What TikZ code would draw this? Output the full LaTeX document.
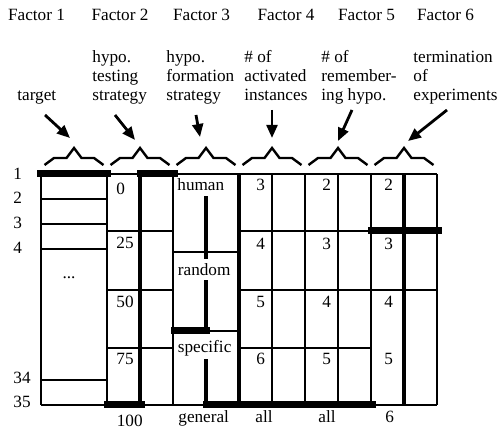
\documentclass[tikz,border=0pt]{standalone}
\usepackage{fontspec}
\setmainfont{Liberation Serif}
\usetikzlibrary{arrows.meta}
\begin{document}
\begin{tikzpicture}[x=0.5pt,y=-0.5pt,
  txt/.style={font=\fontsize{8.6}{10}\selectfont, inner sep=0pt, anchor=base west},
  num/.style={font=\fontsize{8.6}{10}\selectfont, inner sep=0pt, anchor=west},
  hdr/.style={font=\fontsize{8.6}{10}\selectfont, inner sep=0pt, anchor=base},
  brace/.style={line width=1.2pt, line join=miter},
  pointer/.style={line width=1.4pt, -{Triangle[length=6.5pt,width=5.4pt]}},
  hline/.style={line width=0.6pt},
  vthin/.style={line width=1pt},
  vmid/.style={line width=1.4pt},
  vthick/.style={line width=2pt},
  bar/.style={line width=3.5pt},
]
\path[use as bounding box] (0,0) rectangle (498,433);

% ---------- factor headers ----------
\node[hdr] (F1) at (36.5,21) {Factor 1};
\node[hdr] (F2) at (120,21) {Factor 2};
\node[hdr] (F3) at (201.5,21) {Factor 3};
\node[hdr] (F4) at (286,21) {Factor 4};
\node[hdr] (F5) at (366.5,21) {Factor 5};
\node[hdr] (F6) at (445.5,21) {Factor 6};

% ---------- descriptions ----------
\node[txt] (d1) at (17,101) {target};
\node[txt] (d2a) at (92,63) {hypo.};
\node[txt] (d2b) at (92,82) {testing};
\node[txt] (d2c) at (92,101) {strategy};
\node[txt] (d3a) at (166,63) {hypo.};
\node[txt] (d3b) at (166,82) {formation};
\node[txt] (d3c) at (166,101) {strategy};
\node[txt] (d4a) at (244,63) {\# of};
\node[txt] (d4b) at (244,82) {activated};
\node[txt] (d4c) at (244,101) {instances};
\node[txt] (d5a) at (321,63) {\# of};
\node[txt] (d5b) at (321,82) {remember-};
\node[txt] (d5c) at (321,101) {ing hypo.};
\node[txt] (d6a) at (413,63) {termination};
\node[txt] (d6b) at (413,82) {of};
\node[txt] (d6c) at (413,101) {experiments};

% ---------- braces ----------
\foreach \c in {74,140,206,272,338,404}
  \draw[brace] (\c-29.5,165) -- (\c-20,158) -- (\c-7.5,158) -- (\c,148)
               -- (\c+7.5,158) -- (\c+20,158) -- (\c+29.5,165);

% ---------- pointers ----------
\coordinate (a1s) at (45,115);   \coordinate (a1e) at (70,138);
\coordinate (a2s) at (115,115);  \coordinate (a2e) at (135,140);
\coordinate (a3s) at (196,115);  \coordinate (a3e) at (200,137);
\coordinate (a4s) at (272,110);  \coordinate (a4e) at (272,138);
\coordinate (a5s) at (352,110);  \coordinate (a5e) at (338,141);
\coordinate (a6s) at (447,110);  \coordinate (a6e) at (408,141);
\foreach \i in {1,...,6} \draw[pointer] (a\i s) -- (a\i e);

% ---------- grid ----------
\draw[hline] (41,174) -- (437,174);
\draw[hline] (41,405) -- (437,405);
\draw[vthin]  (41,174) -- (41,405);
\draw[vmid]   (107,174) -- (107,405);
\draw[vthick] (140,174) -- (140,405);
\draw[vmid]   (173,174) -- (173,405);
\draw[vthick] (239,174) -- (239,405);
\draw[vthin]  (272,174) -- (272,405);
\draw[vmid]   (305,174) -- (305,405);
\draw[vthin]  (338,174) -- (338,405);
\draw[vmid]   (371,174) -- (371,405);
\draw[vthick] (404,174) -- (404,405);
\draw[vthin]  (437,174) -- (437,405);
% factor 3 inner segments
\draw[vthick] (206,196) -- (206,259);
\draw[vthick] (206,280) -- (206,331);
\draw[vthick] (206,359) -- (206,405);
% horizontals
\foreach \y in {199,224,249,380} \draw[hline] (41,\y) -- (107,\y);
\foreach \y in {231,290,348} \draw[hline] (107,\y) -- (173,\y);
\draw[hline] (173,252) -- (239,252);
\draw[hline] (206,331) -- (239,331);
\foreach \y in {231,290,348} \draw[hline] (239,\y) -- (371,\y);
\draw[hline] (371,290) -- (437,290);

% ---------- thick bars ----------
\draw[bar] (37,173.5) -- (111,173.5);
\draw[bar] (137,173.5) -- (178,173.5);
\draw[bar] (104,404.5) -- (145,404.5);
\draw[bar] (171,330.5) -- (210,330.5);
\draw[bar] (203,404.5) -- (376,404.5);
\draw[bar] (368,230.8) -- (442,230.8);

% ---------- row labels ----------
\node[num] (r1) at (13,174) {1};
\node[num] (r2) at (13,198) {2};
\node[num] (r3) at (13,222.5) {3};
\node[num] (r4) at (13,247.5) {4};
\node[num] (r34) at (13,377.5) {34};
\node[num] (r35) at (13,401.5) {35};
\node[hdr] (dots) at (69,278) {...};

% ---------- factor 2 values ----------
\node[num] (v20) at (116,189) {0};
\node[num] (v25) at (116,243) {25};
\node[num] (v50) at (116,301.5) {50};
\node[num] (v75) at (116,359) {75};
\node[hdr] (v100) at (129.7,426) {100};

% ---------- factor 3 values ----------
\node[txt] (hum) at (177,191) {human};
\node[txt] (ran) at (177.5,275) {random};
\node[txt] (spe) at (177.5,352.5) {specific};
\node[txt] (gen) at (178,422) {general};

% ---------- factors 4-6 values ----------
\node[num] (v43) at (256,184.5) {3};
\node[num] (v44) at (256,244) {4};
\node[num] (v45) at (256,301.5) {5};
\node[num] (v46) at (256,359) {6};
\node[txt] (v4all) at (255,422) {all};
\node[num] (v52) at (322,184.5) {2};
\node[num] (v53) at (322,244) {3};
\node[num] (v54) at (322,301.5) {4};
\node[num] (v55) at (322,359) {5};
\node[txt] (v5all) at (318,422) {all};
\node[num] (v62) at (384,184.5) {2};
\node[num] (v63) at (384,244) {3};
\node[num] (v64) at (384,301.5) {4};
\node[num] (v65) at (384,359) {5};
\node[txt] (v66) at (385,422) {6};
\end{tikzpicture}
\end{document}
